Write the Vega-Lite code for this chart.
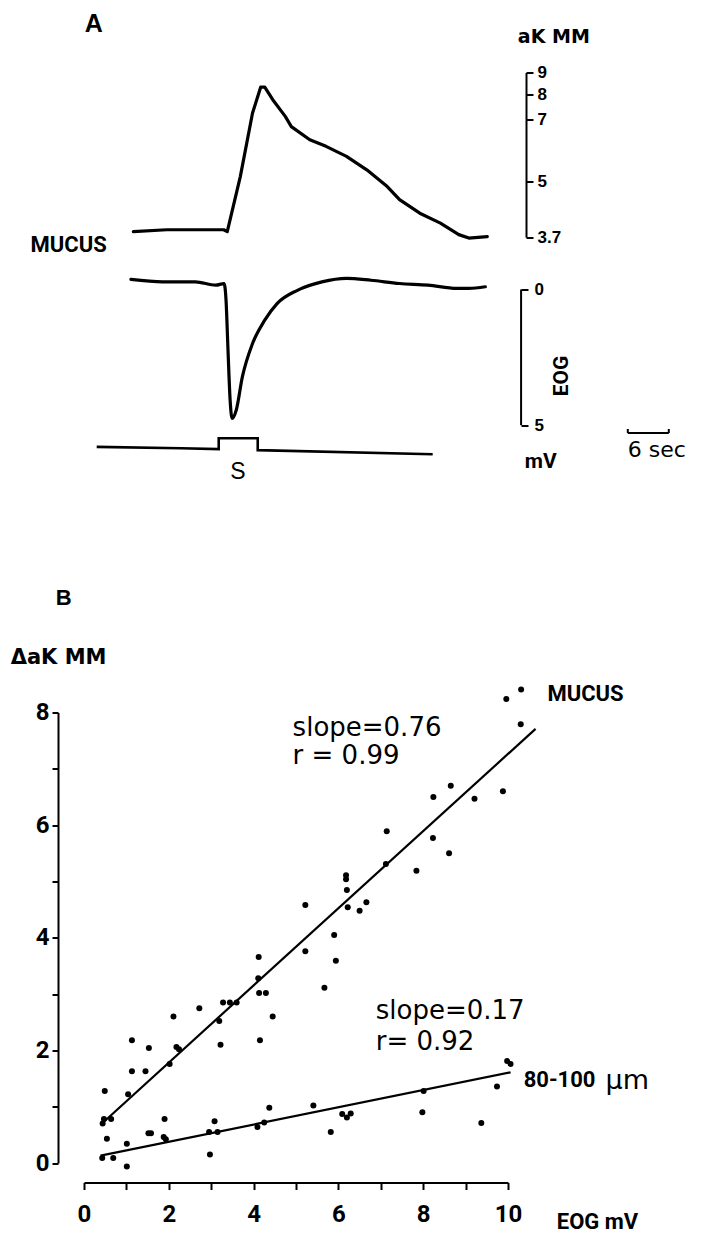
{
  "$schema": "https://vega.github.io/schema/vega-lite/v6.json",
  "background": "white",
  "padding": {"left": 10, "top": 11.5, "right": 0, "bottom": 0},
  "bounds": "flush",
  "spacing": 52,
  "config": {
    "view": {"stroke": null},
    "axis": {"grid": false, "domainColor": "black", "tickColor": "black", "labelColor": "black", "domainWidth": 2, "tickWidth": 2, "labelFlush": false, "labelOverlap": false, "labelBound": false}
  },
  "vconcat": [
    {
      "width": 442,
      "height": 164.6,
      "encoding": {
        "x": {"field": "t", "type": "quantitative", "scale": {"domain": [0, 64.7], "nice": false, "zero": false}, "axis": null},
        "y": {"field": "v", "type": "quantitative", "title": null,
              "scale": {"type": "log", "domain": [3.7, 9], "nice": false},
              "axis": {"orient": "right", "values": [3.7, 5, 7, 8, 9], "format": "~g", "tickSize": 7, "labelPadding": 4,
                       "labelFont": "Liberation Sans", "labelFontWeight": "bold", "labelFontSize": 17}}
      },
      "layer": [
        {
          "data": {"values": [
            {"t": 7.23, "v": 3.81}, {"t": 12.11, "v": 3.85}, {"t": 20.45, "v": 3.85}, {"t": 20.97, "v": 3.81},
            {"t": 22.88, "v": 5.13}, {"t": 24.67, "v": 7.23}, {"t": 25.87, "v": 8.32}, {"t": 26.46, "v": 8.32},
            {"t": 27.63, "v": 7.77}, {"t": 29.46, "v": 7.10}, {"t": 30.35, "v": 6.72}, {"t": 33.05, "v": 6.26},
            {"t": 35.43, "v": 6.04}, {"t": 38.42, "v": 5.72}, {"t": 41.39, "v": 5.32}, {"t": 44.39, "v": 4.86},
            {"t": 46.19, "v": 4.53}, {"t": 49.15, "v": 4.21}, {"t": 52.17, "v": 3.99}, {"t": 54.86, "v": 3.75},
            {"t": 56.33, "v": 3.68}, {"t": 59.03, "v": 3.71}
          ]},
          "mark": {"type": "line", "color": "black", "strokeWidth": 3.2, "strokeJoin": "round", "strokeCap": "round"}
        },
        {
          "data": {"values": [{"t": 1.42, "v": 11.67, "label": "A"}]},
          "mark": {"type": "text", "font": "Liberation Sans", "fontWeight": "bold", "fontSize": 25, "align": "center", "baseline": "middle", "color": "black"},
          "encoding": {"text": {"field": "label", "type": "nominal"}}
        },
        {
          "data": {"values": [{"t": -2.24, "v": 3.55, "label": "MUCUS"}]},
          "mark": {"type": "text", "font": "Roboto, Liberation Sans, sans-serif", "fontWeight": "bold", "fontSize": 22, "align": "center", "baseline": "middle", "color": "black"},
          "encoding": {"text": {"field": "label", "type": "nominal"}}
        },
        {
          "data": {"values": [{"t": 68.77, "v": 10.91, "label": "aK MM"}]},
          "mark": {"type": "text", "font": "DejaVu Sans", "fontWeight": "bold", "fontSize": 19, "align": "center", "baseline": "middle", "color": "black"},
          "encoding": {"text": {"field": "label", "type": "nominal"}}
        }
      ]
    },
    {
      "width": 442,
      "height": 370.7,
      "encoding": {
        "x": {"field": "t", "type": "quantitative", "scale": {"domain": [0, 64.7], "nice": false, "zero": false}, "axis": null},
        "y": {"field": "v", "type": "quantitative", "title": null,
              "scale": {"domain": [0, 13.66], "nice": false, "zero": false, "reverse": true},
              "axis": {"orient": "right", "offset": -5, "domain": false, "values": [0, 5], "tickSize": 7, "labelPadding": 6,
                       "labelFont": "Liberation Sans", "labelFontWeight": "bold", "labelFontSize": 17}}
      },
      "layer": [
        {
          "data": {"values": [
            {"t": 6.87, "v": -0.37}, {"t": 11.52, "v": -0.28}, {"t": 16.31, "v": -0.28}, {"t": 19.28, "v": -0.16},
            {"t": 20.5, "v": -0.22}, {"t": 20.79, "v": 0.39}, {"t": 21.08, "v": 2.24}, {"t": 21.39, "v": 4.08},
            {"t": 21.68, "v": 4.75}, {"t": 22.28, "v": 4.45}, {"t": 23.18, "v": 3.22}, {"t": 24.67, "v": 1.99},
            {"t": 26.46, "v": 1.13}, {"t": 28.26, "v": 0.52}, {"t": 31.24, "v": 0.03}, {"t": 34.83, "v": -0.28},
            {"t": 38.42, "v": -0.41}, {"t": 42.01, "v": -0.34}, {"t": 46.19, "v": -0.22}, {"t": 50.37, "v": -0.16},
            {"t": 54.57, "v": -0.04}, {"t": 56.35, "v": -0.04}, {"t": 58.74, "v": -0.10}
          ]},
          "mark": {"type": "line", "color": "black", "strokeWidth": 3.2, "strokeJoin": "round", "strokeCap": "round", "interpolate": "monotone"}
        },
        {
          "data": {"values": [{"t": 63.98, "v": 0}, {"t": 63.98, "v": 5}]},
          "mark": {"type": "line", "color": "black", "strokeWidth": 2}
        },
        {
          "data": {"values": [
            {"t": 1.86, "v": 5.80, "i": 0}, {"t": 14.16, "v": 5.85, "i": 1}, {"t": 19.72, "v": 5.88, "i": 2},
            {"t": 19.72, "v": 5.48, "i": 3}, {"t": 25.43, "v": 5.48, "i": 4}, {"t": 25.43, "v": 5.92, "i": 5},
            {"t": 51.04, "v": 6.07, "i": 6}
          ]},
          "mark": {"type": "line", "color": "black", "strokeWidth": 2.6, "strokeJoin": "miter"},
          "encoding": {"order": {"field": "i", "type": "quantitative"}}
        },
        {
          "data": {"values": [
            {"t": 79.6, "t2": 85.6, "v": 5.29, "v2": 5.29},
            {"t": 79.6, "t2": 79.6, "v": 5.14, "v2": 5.29},
            {"t": 85.6, "t2": 85.6, "v": 5.14, "v2": 5.29}
          ]},
          "mark": {"type": "rule", "color": "black", "strokeWidth": 2},
          "encoding": {"x2": {"field": "t2"}, "y2": {"field": "v2"}}
        },
        {
          "data": {"values": [{"t": 22.53, "v": 6.73, "label": "S"}]},
          "mark": {"type": "text", "font": "Liberation Sans", "fontSize": 23, "align": "center", "baseline": "middle", "color": "black"},
          "encoding": {"text": {"field": "label", "type": "nominal"}}
        },
        {
          "data": {"values": [{"t": 79.6, "v": 5.92, "label": "6 sec"}]},
          "mark": {"type": "text", "font": "DejaVu Sans", "fontSize": 22, "align": "left", "baseline": "middle", "color": "black"},
          "encoding": {"text": {"field": "label", "type": "nominal"}}
        },
        {
          "data": {"values": [{"t": 66.87, "v": 6.36, "label": "mV"}]},
          "mark": {"type": "text", "font": "Roboto, Liberation Sans, sans-serif", "fontWeight": "bold", "fontSize": 21, "align": "center", "baseline": "middle", "color": "black"},
          "encoding": {"text": {"field": "label", "type": "nominal"}}
        },
        {
          "data": {"values": [{"t": 70.04, "v": 3.19, "label": "EOG"}]},
          "mark": {"type": "text", "font": "Roboto, Liberation Sans, sans-serif", "fontWeight": "bold", "fontSize": 21, "angle": 270, "align": "center", "baseline": "middle", "color": "black"},
          "encoding": {"text": {"field": "label", "type": "nominal"}}
        }
      ]
    },
    {
      "width": 424,
      "height": 450.5,
      "encoding": {
        "x": {"field": "x", "type": "quantitative", "title": null,
              "scale": {"domain": [0, 10], "nice": false, "zero": false},
              "axis": {"offset": 19.5, "values": [0, 1, 2, 3, 4, 5, 6, 7, 8, 9, 10], "labelExpr": "datum.value % 2 == 0 ? datum.label : ''",
                       "tickSize": 7, "labelPadding": 13, "labelFont": "Roboto, Liberation Sans, sans-serif",
                       "labelFontWeight": "bold", "labelFontSize": 24}},
        "y": {"field": "y", "type": "quantitative", "title": null,
              "scale": {"domain": [0, 8], "nice": false, "zero": false},
              "axis": {"offset": 26, "values": [0, 1, 2, 3, 4, 5, 6, 7, 8], "labelExpr": "datum.value % 2 == 0 ? datum.label : ''",
                       "tickSize": 6, "labelPadding": 3, "labelFont": "Roboto, Liberation Sans, sans-serif",
                       "labelFontWeight": "bold", "labelFontSize": 24}}
      },
      "layer": [
        {
          "data": {"values": [
            {"x": 0.49, "y": 1.28, "g": "mucus"}, {"x": 0.47, "y": 0.78, "g": "mucus"}, {"x": 0.64, "y": 0.78, "g": "mucus"},
            {"x": 0.44, "y": 0.70, "g": "mucus"}, {"x": 1.04, "y": 1.22, "g": "mucus"}, {"x": 1.13, "y": 2.18, "g": "mucus"},
            {"x": 1.13, "y": 1.63, "g": "mucus"}, {"x": 1.45, "y": 1.63, "g": "mucus"}, {"x": 1.53, "y": 2.04, "g": "mucus"},
            {"x": 2.02, "y": 1.76, "g": "mucus"}, {"x": 2.11, "y": 2.60, "g": "mucus"}, {"x": 2.18, "y": 2.06, "g": "mucus"},
            {"x": 2.24, "y": 2.02, "g": "mucus"}, {"x": 2.72, "y": 2.75, "g": "mucus"}, {"x": 3.19, "y": 2.52, "g": "mucus"},
            {"x": 3.22, "y": 2.10, "g": "mucus"}, {"x": 3.28, "y": 2.85, "g": "mucus"}, {"x": 3.44, "y": 2.85, "g": "mucus"},
            {"x": 3.60, "y": 2.85, "g": "mucus"}, {"x": 4.12, "y": 3.66, "g": "mucus"}, {"x": 4.11, "y": 3.28, "g": "mucus"},
            {"x": 4.13, "y": 3.02, "g": "mucus"}, {"x": 4.29, "y": 3.02, "g": "mucus"}, {"x": 4.15, "y": 2.18, "g": "mucus"},
            {"x": 4.45, "y": 2.60, "g": "mucus"}, {"x": 5.22, "y": 4.58, "g": "mucus"}, {"x": 5.22, "y": 3.76, "g": "mucus"},
            {"x": 5.67, "y": 3.11, "g": "mucus"}, {"x": 5.90, "y": 4.05, "g": "mucus"}, {"x": 5.94, "y": 3.59, "g": "mucus"},
            {"x": 6.18, "y": 5.11, "g": "mucus"}, {"x": 6.18, "y": 5.04, "g": "mucus"}, {"x": 6.20, "y": 4.85, "g": "mucus"},
            {"x": 6.22, "y": 4.54, "g": "mucus"}, {"x": 6.50, "y": 4.48, "g": "mucus"}, {"x": 6.66, "y": 4.63, "g": "mucus"},
            {"x": 7.12, "y": 5.31, "g": "mucus"}, {"x": 7.14, "y": 5.89, "g": "mucus"}, {"x": 7.84, "y": 5.19, "g": "mucus"},
            {"x": 8.23, "y": 5.77, "g": "mucus"}, {"x": 8.24, "y": 6.50, "g": "mucus"}, {"x": 8.61, "y": 5.50, "g": "mucus"},
            {"x": 8.65, "y": 6.70, "g": "mucus"}, {"x": 9.21, "y": 6.47, "g": "mucus"}, {"x": 9.88, "y": 6.60, "g": "mucus"},
            {"x": 9.96, "y": 8.24, "g": "mucus"}, {"x": 10.31, "y": 8.41, "g": "mucus"}, {"x": 10.30, "y": 7.79, "g": "mucus"},
            {"x": 0.43, "y": 0.09, "g": "80-100"}, {"x": 0.69, "y": 0.09, "g": "80-100"}, {"x": 0.54, "y": 0.43, "g": "80-100"},
            {"x": 1.01, "y": 0.34, "g": "80-100"}, {"x": 1.01, "y": -0.06, "g": "80-100"}, {"x": 1.52, "y": 0.53, "g": "80-100"},
            {"x": 1.58, "y": 0.53, "g": "80-100"}, {"x": 1.90, "y": 0.78, "g": "80-100"}, {"x": 1.88, "y": 0.46, "g": "80-100"},
            {"x": 1.93, "y": 0.42, "g": "80-100"}, {"x": 2.97, "y": 0.15, "g": "80-100"}, {"x": 2.95, "y": 0.55, "g": "80-100"},
            {"x": 3.08, "y": 0.74, "g": "80-100"}, {"x": 3.15, "y": 0.55, "g": "80-100"}, {"x": 4.09, "y": 0.64, "g": "80-100"},
            {"x": 4.25, "y": 0.72, "g": "80-100"}, {"x": 4.37, "y": 0.98, "g": "80-100"}, {"x": 5.41, "y": 1.02, "g": "80-100"},
            {"x": 5.82, "y": 0.55, "g": "80-100"}, {"x": 6.09, "y": 0.87, "g": "80-100"}, {"x": 6.20, "y": 0.81, "g": "80-100"},
            {"x": 6.29, "y": 0.88, "g": "80-100"}, {"x": 8.01, "y": 1.28, "g": "80-100"}, {"x": 7.98, "y": 0.90, "g": "80-100"},
            {"x": 9.37, "y": 0.71, "g": "80-100"}, {"x": 9.74, "y": 1.36, "g": "80-100"}, {"x": 9.98, "y": 1.81, "g": "80-100"},
            {"x": 10.06, "y": 1.76, "g": "80-100"}
          ]},
          "mark": {"type": "circle", "color": "black", "size": 36, "opacity": 1}
        },
        {
          "data": {"values": [
            {"x": 0.45, "y": 0.72, "g": "mucus"}, {"x": 10.65, "y": 7.71, "g": "mucus"},
            {"x": 0.39, "y": 0.13, "g": "80-100"}, {"x": 10.06, "y": 1.61, "g": "80-100"}
          ]},
          "mark": {"type": "line", "color": "black", "strokeWidth": 2.2},
          "encoding": {"detail": {"field": "g", "type": "nominal"}}
        },
        {
          "data": {"values": [
            {"x": 4.92, "y": 7.73, "label": "slope=0.76"},
            {"x": 4.92, "y": 7.22, "label": "r = 0.99"},
            {"x": 6.88, "y": 2.70, "label": "slope=0.17"},
            {"x": 6.88, "y": 2.14, "label": "r= 0.92"}
          ]},
          "mark": {"type": "text", "font": "DejaVu Sans", "fontSize": 26, "align": "left", "baseline": "middle", "color": "black"},
          "encoding": {"text": {"field": "label", "type": "nominal"}}
        },
        {
          "data": {"values": [
            {"x": 10.93, "y": 8.33, "label": "MUCUS"},
            {"x": 10.37, "y": 1.48, "label": "80-100"},
            {"x": 11.15, "y": -1.04, "label": "EOG mV"}
          ]},
          "mark": {"type": "text", "font": "Roboto, Liberation Sans, sans-serif", "fontWeight": "bold", "fontSize": 22, "align": "left", "baseline": "middle", "color": "black"},
          "encoding": {"text": {"field": "label", "type": "nominal"}}
        },
        {
          "data": {"values": [{"x": 12.3, "y": 1.45, "label": "µm"}]},
          "mark": {"type": "text", "font": "DejaVu Sans", "fontSize": 27, "align": "left", "baseline": "middle", "color": "black"},
          "encoding": {"text": {"field": "label", "type": "nominal"}}
        },
        {
          "data": {"values": [{"x": -1.729, "y": 8.96, "label": "ΔaK  MM"}]},
          "mark": {"type": "text", "font": "DejaVu Sans", "fontWeight": "bold", "fontSize": 21, "align": "left", "baseline": "middle", "color": "black"},
          "encoding": {"text": {"field": "label", "type": "nominal"}}
        },
        {
          "data": {"values": [{"x": -0.48, "y": 10.03, "label": "B"}]},
          "mark": {"type": "text", "font": "Liberation Sans", "fontWeight": "bold", "fontSize": 22, "align": "center", "baseline": "middle", "color": "black"},
          "encoding": {"text": {"field": "label", "type": "nominal"}}
        }
      ]
    }
  ]
}
